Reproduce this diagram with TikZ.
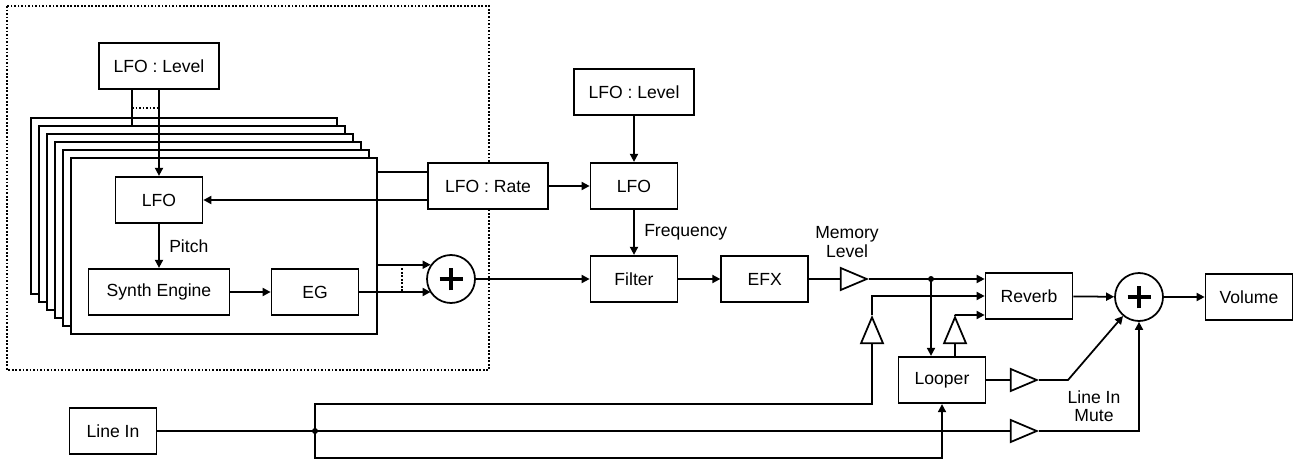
\documentclass[tikz,border=0pt]{standalone}
\usepackage{fontspec}
\setmainfont{Liberation Sans}
\usetikzlibrary{shapes.geometric, arrows.meta, positioning, calc}

\begin{document}
\begin{tikzpicture}[
    x=0.02cm, y=-0.02cm,
    line width=1pt,
    font=\fontsize{10}{12}\selectfont,
    block/.style={rectangle, draw, fill=white, minimum width=1.74cm, minimum height=0.93cm, inner sep=0pt, text centered},
    wideblock/.style={block, minimum width=2.4cm},
    voice/.style={rectangle, draw, fill=white, minimum width=6.12cm, minimum height=3.52cm, inner sep=0pt},
    adder/.style={circle, draw, fill=white, minimum size=0.96cm, inner sep=0pt, path picture={
        \draw[line width=2.3pt] ([xshift=-0.23cm]path picture bounding box.center) -- ([xshift=0.23cm]path picture bounding box.center);
        \draw[line width=2.3pt] ([yshift=-0.23cm]path picture bounding box.center) -- ([yshift=0.23cm]path picture bounding box.center);}},
    amp/.style={isosceles triangle, isosceles triangle stretches, draw, fill=white, minimum width=0.44cm, minimum height=0.52cm, inner sep=0pt},
    twoline/.style={align=center, font=\fontsize{10}{10.5}\selectfont},
    arr/.style={-{Triangle[length=1.6mm, width=1.6mm]}},
    groupframe/.style={dash pattern=on 1pt off 1pt},
]

\useasboundingbox (0,0) rectangle (1294,459);
\draw[groupframe] (7,6) rectangle (489,370);

\foreach \i in {0,...,5}
    \node[voice] (v\i) at (184+8*\i, 206+8*\i) {};

\node[wideblock] (lvlA) at (159,66) {LFO : Level};
\node[block] (lfoA) at (159,200) {LFO};
\node[block, minimum width=2.82cm] (synth) at (159,292) {Synth Engine};
\node[block] (eg) at (315,292) {EG};
\node[adder] (sumA) at (451,279) {};

\node[wideblock] (rate) at (488,186) {LFO : Rate};
\node[wideblock] (lvlB) at (634,92) {LFO : Level};
\node[block] (lfoB) at (634,186) {LFO};
\node[block] (filter) at (634,279) {Filter};
\node[block, right=0.84cm of filter] (efx) {EFX};
\node[amp] (mem) at (848,279) {};
\node[twoline] (memlbl) at (847,242) {Memory\\Level};
\node[block] (reverb) at (1029,296) {Reverb};
\node[adder] (sumB) at (1139,297) {};
\node[block] (volume) at (1249,297) {Volume};
\node[block] (looper) at (942,380) {Looper};
\node[amp, rotate=90] (inAmp) at (872,336) {};
\node[amp, rotate=90] (fbAmp) at (955,336) {};
\node[amp] (outAmp) at (1018,380) {};
\node[amp] (muteAmp) at (1018,431) {};
\node[twoline] (mutelbl) at (1094,406) {Line In\\Mute};
\node[block] (linein) at (113,431) {Line In};

\coordinate (tap) at ($(lvlA.south)+(-27,0)$);
\coordinate (jmem) at (931,279);
\coordinate (jin) at (315,431);

\draw (tap) -- (tap |- v1.north);
\draw[groupframe] ($(tap)+(0,18)$) -- ++(27,0);
\draw[arr] (lvlA) -- (lfoA);
\draw[arr] (lfoA) -- node[right, xshift=2pt] (pitchlbl) {Pitch} (synth);
\draw[arr] (synth) -- (eg);
\draw[arr] (v5.east |- sumA.145) -- (sumA.145);
\draw[arr] (eg.east) -- (eg.east -| sumA.215);
\draw[groupframe] ($(v5.east |- sumA.145)+(24,0)$) -- ($(v5.east |- eg.east)+(24,0)$);
\draw[arr] (sumA) -- (filter);

\draw ($(rate.west)+(0,-14)$) -- ($(v5.east |- rate.west)+(0,-14)$);
\draw[arr] (rate.west |- lfoA) -- (lfoA);
\draw[arr] (rate) -- (lfoB);
\draw[arr] (lvlB) -- (lfoB);
\draw[arr] (lfoB) -- node[right, xshift=2pt] (freqlbl) {Frequency} (filter);
\draw[arr] (filter) -- (efx);
\draw (efx) -- (mem);

\draw[arr] (mem.east) -- (mem.east -| reverb.west);
\fill (jmem) circle (1.7pt);
\draw[arr] (jmem) -- (jmem |- looper.north);
\draw[arr] (inAmp.east) |- (reverb.west);
\draw (looper.north -| fbAmp) -- (fbAmp.west);
\draw[arr] (fbAmp.east) |- ($(reverb.west)+(0,19)$);
\draw[arr] (reverb) -- (sumB);
\draw[arr] (sumB) -- (volume);
\draw (looper) -- (outAmp);
\draw[arr] (outAmp.east) -- ++(29,0) -- (sumB.230);

\draw (linein) -- (muteAmp);
\fill (jin) circle (1.7pt);
\draw (jin) -- ++(0,-27) -| (inAmp.west);
\draw[arr] (jin) -- ++(0,27) -| (looper.south);
\draw[arr] (muteAmp.east) -| (sumB.south);

\end{tikzpicture}
\end{document}
